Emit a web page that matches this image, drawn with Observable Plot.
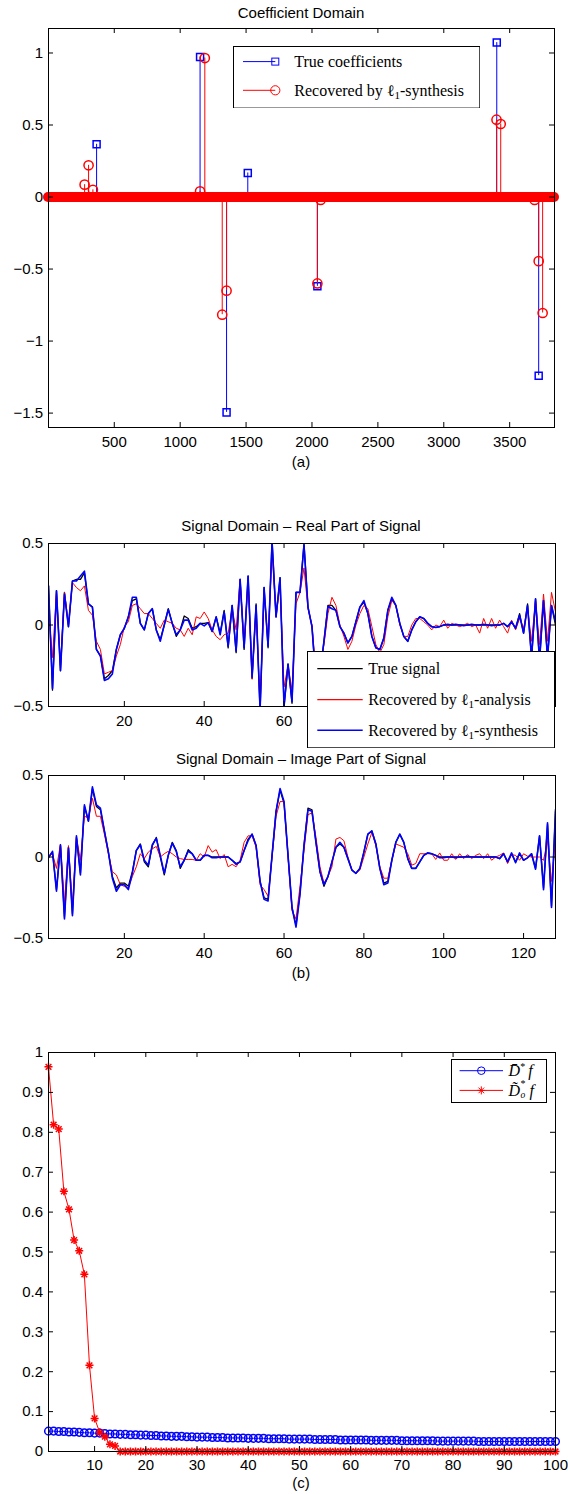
<!DOCTYPE html>
<html><head><meta charset="utf-8">
<script src="https://cdn.jsdelivr.net/npm/d3@7"></script>
<script src="https://cdn.jsdelivr.net/npm/@observablehq/plot@0.6"></script>
<style>
body{margin:0;background:#fff}
#root{position:relative;width:568px;height:1494px;overflow:hidden;font-family:"Liberation Sans",Arial,sans-serif;background:#fff}
.p{position:absolute;left:0}
.t{position:absolute;font-size:15px;color:#000;white-space:nowrap;transform:translate(-50%,-50%);line-height:1}
</style></head><body><div id="root"></div>
<script>
// ---------- Panel (a): coefficient domain ----------
const trueIdx = [366, 1151, 1352, 1513, 2041, 3402, 3720];
const trueVal = [0.366, 0.972, -1.495, 0.167, -0.62, 1.072, -1.24];
const recIdx = [275, 305, 338, 1151, 1187, 1319, 1352, 2041, 2066, 3400, 3432, 3689, 3720, 3750];
const recVal = [0.086, 0.22, 0.05, 0.04, 0.965, -0.817, -0.65, -0.60, -0.02, 0.537, 0.507, -0.02, -0.445, -0.805];
const coefLength = 3840;
const aXTicks = [500, 1000, 1500, 2000, 2500, 3000, 3500];
const aYTicks = [-1.5, -1, -0.5, 0, 0.5, 1];

// ---------- Panel (b): signal domain ----------
const realTrue = [0.24,-0.40,0.21,-0.28,0.20,-0.01,0.27,0.28,0.28,0.32,
0.13,0.11,-0.15,-0.19,-0.33,-0.31,-0.28,-0.15,-0.06,-0.02,
0.05,0.15,0.16,0.01,-0.03,0.07,0.10,-0.03,-0.09,0.00,
0.10,0.01,-0.07,-0.03,0.055,0.04,-0.02,-0.01,0.01,0.01,
0.015,-0.04,0.05,-0.05,0.09,-0.14,0.12,-0.17,0.28,-0.15,
0.30,-0.33,0.13,-0.53,0.23,-0.14,0.52,0.05,0.29,-0.50,
-0.24,-0.48,0.20,0.20,0.50,0.11,-0.01,-0.35,-0.30,-0.10,
0.12,0.12,0.09,-0.01,-0.05,-0.11,-0.07,0.02,0.11,0.14,
0.07,-0.07,-0.14,-0.15,-0.08,0.09,0.16,0.12,0.01,-0.07,
-0.10,-0.03,0.02,0.05,0.04,0.01,-0.01,-0.015,-0.01,0.00,
0.00,0.00,0.00,0.00,0.00,0.00,0.00,0.00,0.00,0.00,
0.00,0.00,0.00,0.00,0.01,-0.01,0.02,-0.02,0.07,-0.05,
0.13,-0.21,0.16,-0.22,0.15,-0.20,0.12,0.00];
const realAna = [0.10,-0.20,0.20,-0.25,0.20,0.00,0.26,0.23,0.21,0.24,
0.09,0.06,-0.10,-0.15,-0.30,-0.29,-0.28,-0.19,-0.12,-0.01,
0.02,0.12,0.13,0.10,0.07,0.07,0.04,0.01,-0.02,0.03,
0.02,0.01,-0.02,-0.03,-0.07,-0.02,-0.06,0.05,0.04,0.08,
0.04,-0.03,-0.07,-0.09,-0.06,-0.05,0.10,-0.03,0.28,-0.12,
0.28,-0.33,0.10,-0.50,0.20,-0.10,0.47,0.05,0.25,-0.38,
-0.25,-0.40,0.13,0.20,0.35,0.10,0.00,-0.30,-0.25,-0.12,
0.07,0.17,0.12,0.00,-0.07,-0.15,-0.10,0.00,0.07,0.12,
0.10,-0.01,-0.12,-0.17,-0.12,0.05,0.15,0.12,0.00,-0.07,
-0.07,0.00,0.04,0.04,0.02,0.00,-0.03,0.00,-0.01,0.03,
-0.02,0.01,0.00,-0.01,0.00,0.01,-0.01,0.00,-0.05,0.04,
-0.02,0.04,-0.02,0.03,-0.01,-0.05,0.03,-0.03,0.04,-0.02,
0.10,-0.10,0.15,-0.12,0.19,-0.10,0.20,0.08];
const realSyn = [0.24,-0.39,0.21,-0.28,0.19,-0.01,0.27,0.27,0.30,0.33,
0.13,0.11,-0.15,-0.19,-0.34,-0.33,-0.30,-0.15,-0.06,-0.02,
0.05,0.17,0.17,0.01,-0.03,0.07,0.10,-0.03,-0.10,0.00,
0.095,0.01,-0.06,-0.03,0.03,0.03,-0.03,-0.02,0.01,-0.005,
0.015,-0.04,0.05,-0.06,0.08,-0.13,0.12,-0.16,0.28,-0.14,
0.30,-0.32,0.12,-0.52,0.23,-0.13,0.51,0.05,0.29,-0.50,
-0.24,-0.47,0.20,0.20,0.49,0.11,-0.01,-0.35,-0.30,-0.10,
0.115,0.10,0.09,-0.01,-0.05,-0.11,-0.07,0.02,0.11,0.15,
0.07,-0.07,-0.14,-0.15,-0.08,0.09,0.17,0.12,0.01,-0.07,
-0.10,-0.03,0.02,0.05,0.04,0.01,-0.01,-0.015,-0.01,0.00,
0.005,0.00,0.005,0.00,-0.005,0.00,0.005,0.00,0.00,0.005,
0.00,-0.005,0.00,0.00,0.01,-0.01,0.02,-0.02,0.06,-0.05,
0.12,-0.20,0.16,-0.22,0.15,-0.20,0.12,0.02];
const imagTrue = [0.00,0.03,-0.20,0.07,-0.37,0.06,-0.35,0.12,-0.10,0.31,
0.22,0.42,0.31,0.29,0.16,0.03,-0.12,-0.19,-0.16,-0.16,
-0.18,-0.09,0.04,0.08,-0.03,-0.06,0.07,0.12,0.00,-0.11,
0.01,0.09,0.04,-0.07,-0.02,0.045,0.02,-0.02,-0.02,0.01,
0.01,0.00,0.00,0.00,0.00,0.00,-0.02,-0.04,-0.03,0.04,
0.11,0.14,0.07,-0.15,-0.25,-0.26,0.01,0.28,0.41,0.33,
0.01,-0.31,-0.42,-0.22,0.07,0.30,0.29,0.09,-0.09,-0.18,
-0.12,-0.03,0.06,0.08,0.06,-0.01,-0.08,-0.10,-0.07,0.03,
0.14,0.16,0.08,-0.07,-0.16,-0.15,-0.02,0.09,0.14,0.09,
-0.01,-0.07,-0.07,-0.03,0.01,0.025,0.02,0.01,0.00,0.00,
0.00,0.00,0.00,0.00,0.00,0.00,0.00,0.00,0.00,0.00,
0.00,0.00,0.00,-0.01,0.02,-0.03,0.02,-0.03,0.02,-0.02,
-0.005,0.02,-0.07,0.13,-0.19,0.20,-0.30,0.28];
const imagAna = [0.00,0.02,-0.07,0.08,-0.28,0.07,-0.30,0.12,-0.02,0.25,
0.24,0.36,0.25,0.25,0.14,0.02,-0.09,-0.11,-0.17,-0.18,
-0.19,-0.12,-0.06,0.02,-0.01,0.03,0.05,0.065,0.00,0.02,
0.035,0.02,0.00,-0.01,-0.015,-0.015,-0.015,-0.02,0.02,0.00,
0.07,0.03,0.045,-0.01,0.015,-0.06,-0.045,-0.06,-0.02,0.09,
0.13,0.13,0.06,-0.17,-0.20,-0.24,0.00,0.25,0.34,0.34,
0.00,-0.33,-0.38,-0.18,0.04,0.26,0.27,0.12,-0.06,-0.16,
-0.12,-0.06,0.11,0.12,0.10,0.00,-0.08,-0.10,-0.08,0.00,
0.08,0.15,0.07,-0.06,-0.13,-0.13,-0.02,0.08,0.07,0.06,
0.02,-0.05,-0.04,0.02,0.02,0.02,0.02,-0.015,0.025,-0.02,
-0.02,0.02,-0.015,0.02,-0.01,0.015,-0.01,0.01,0.02,-0.01,
0.02,-0.02,0.00,0.01,0.025,-0.04,0.015,0.01,-0.02,0.02,
0.005,0.00,0.00,0.00,-0.02,0.10,-0.15,0.10];
const imagSyn = [-0.005,0.035,-0.21,0.075,-0.38,0.055,-0.36,0.13,-0.11,0.32,
0.22,0.43,0.32,0.30,0.16,0.03,-0.13,-0.21,-0.17,-0.17,
-0.20,-0.10,0.04,0.075,-0.02,-0.05,0.075,0.115,0.01,-0.10,
0.01,0.085,0.035,-0.06,-0.02,0.035,0.02,-0.02,-0.02,0.01,
0.01,-0.005,-0.005,0.00,0.00,0.00,-0.02,-0.045,-0.03,0.04,
0.10,0.14,0.07,-0.15,-0.26,-0.27,0.01,0.28,0.42,0.34,
0.01,-0.31,-0.43,-0.23,0.07,0.29,0.28,0.09,-0.09,-0.17,
-0.12,-0.03,0.06,0.09,0.06,-0.01,-0.08,-0.10,-0.07,0.03,
0.14,0.16,0.08,-0.07,-0.17,-0.16,-0.02,0.09,0.14,0.09,
-0.01,-0.07,-0.07,-0.03,0.01,0.025,0.02,0.01,-0.005,-0.005,
0.00,0.00,-0.005,0.00,0.00,0.005,0.00,0.00,0.00,0.00,
0.00,0.00,0.00,-0.01,0.02,-0.03,0.025,-0.035,0.025,-0.02,
-0.005,0.02,-0.075,0.13,-0.20,0.21,-0.31,0.29];
const bXTicks = [20, 40, 60, 80, 100, 120];
const bXLabelsVisibleReal = [20, 40, 60]; // 80–120 are covered by the legend in the reference
const bYTicks = [-0.5, 0, 0.5];

// ---------- Panel (c) ----------
const dBar = [0.051,0.051,0.050,0.050,0.049,0.049,0.048,0.047,0.047,0.046,
0.046,0.045,0.044,0.044,0.043,0.043,0.042,0.042,0.041,0.041,
0.040,0.040,0.039,0.039,0.038,0.038,0.038,0.037,0.037,0.036,
0.036,0.036,0.035,0.035,0.035,0.034,0.034,0.034,0.034,0.033,
0.033,0.033,0.033,0.032,0.032,0.032,0.032,0.031,0.031,0.031,
0.031,0.031,0.030,0.030,0.030,0.030,0.030,0.029,0.029,0.029,
0.029,0.029,0.029,0.028,0.028,0.028,0.028,0.028,0.028,0.027,
0.027,0.027,0.027,0.027,0.027,0.027,0.026,0.026,0.026,0.026,
0.026,0.026,0.026,0.026,0.025,0.025,0.025,0.025,0.025,0.025,
0.025,0.025,0.025,0.025,0.025,0.025,0.025,0.025,0.025,0.025];
const dTilde = [0.964,0.819,0.808,0.652,0.607,0.530,0.503,0.444,0.216,0.083,
0.048,0.037,0.018,0.014,0,0,0,0,0,0,
0,0,0,0,0,0,0,0,0,0,
0,0,0,0,0,0,0,0,0,0,
0,0,0,0,0,0,0,0,0,0,
0,0,0,0,0,0,0,0,0,0,
0,0,0,0,0,0,0,0,0,0,
0,0,0,0,0,0,0,0,0,0,
0,0,0,0,0,0,0,0,0,0,
0,0,0,0,0,0,0,0,0,0];
const cXTicks = [10, 20, 30, 40, 50, 60, 70, 80, 90, 100];
const cYTicks = [0, 0.1, 0.2, 0.3, 0.4, 0.5, 0.6, 0.7, 0.8, 0.9, 1];

// ---------- helpers ----------
const root = document.getElementById("root");
const BLUE = "#0000ff", RED = "#ff0000";
const fmt = d => (d < 0 ? "\u2212" : "") + String(+Math.abs(d).toFixed(4));
const idx = (d, i) => i + 1;
const val = d => d;

function panel({top, height, mt, mb, ml = 48, mr = 13, xdom, ydom, xticks, xlabels, yticks, marks, xpad = 9}) {
  const W = 568, pw = W - ml - mr, ph = height - mt - mb, tl = 5;
  const svg = Plot.plot({
    width: W, height, marginTop: mt, marginBottom: mb, marginLeft: ml, marginRight: mr,
    x: {domain: xdom}, y: {domain: ydom},
    style: {fontFamily: "'Liberation Sans', Arial, sans-serif", fontSize: "15px", color: "black", background: "white", overflow: "visible"},
    marks: [
      ...marks,
      Plot.tickX(xticks, {x: val, insetTop: ph - tl, stroke: "black"}),
      Plot.tickX(xticks, {x: val, insetBottom: ph - tl, stroke: "black"}),
      Plot.tickY(yticks, {y: val, insetRight: pw - tl, stroke: "black"}),
      Plot.tickY(yticks, {y: val, insetLeft: pw - tl, stroke: "black"}),
      Plot.frame({stroke: "black"}),
      Plot.axisX(xlabels || xticks, {tickSize: 0, tickPadding: xpad, fontSize: 15, tickFormat: fmt, label: null}),
      Plot.axisY(yticks, {tickSize: 0, tickPadding: 5.5, fontSize: 15, tickFormat: fmt, label: null})
    ]
  });
  svg.classList.add("p");
  svg.style.top = top + "px";
  root.appendChild(svg);
}

function label(text, x, y) {
  const d = document.createElement("div");
  d.className = "t"; d.textContent = text;
  d.style.left = x + "px"; d.style.top = y + "px";
  root.appendChild(d);
}

function legend({left, top, w, h, items, lx1, lx2, mx, tx, fs = 16}) {
  const svg = d3.create("svg").attr("width", w).attr("height", h)
    .style("position", "absolute").style("left", left + "px").style("top", top + "px");
  svg.append("rect").attr("x", 0.5).attr("y", 0.5).attr("width", w - 1).attr("height", h - 1)
    .attr("fill", "white").attr("stroke", "black");
  for (const it of items) {
    svg.append("line").attr("x1", lx1).attr("x2", lx2).attr("y1", it.y).attr("y2", it.y)
      .attr("stroke", it.color).attr("stroke-width", it.sw || 1);
    if (it.marker === "square") {
      svg.append("rect").attr("x", mx - 3.5).attr("y", it.y - 3.5).attr("width", 7).attr("height", 7)
        .attr("fill", "none").attr("stroke", it.color);
    } else if (it.marker === "circle") {
      svg.append("circle").attr("cx", mx).attr("cy", it.y).attr("r", it.r || 4.6)
        .attr("fill", "none").attr("stroke", it.color);
    } else if (it.marker === "star") {
      const r = 4;
      svg.append("path").attr("d", `M${mx - r},${it.y}H${mx + r}M${mx},${it.y - r}V${it.y + r}M${mx - 2.8},${it.y - 2.8}L${mx + 2.8},${it.y + 2.8}M${mx - 2.8},${it.y + 2.8}L${mx + 2.8},${it.y - 2.8}`)
        .attr("stroke", it.color).attr("fill", "none");
    }
    it.text(svg, tx, it.y, fs);
  }
  root.appendChild(svg.node());
}

function txt(svg, x, y, fs) {
  return svg.append("text").attr("x", x).attr("y", y).attr("dy", "0.33em")
    .attr("font-family", "'Liberation Serif', 'DejaVu Serif', serif").attr("font-size", fs).attr("fill", "black");
}

function ell1(t, rest) {
  t.append("tspan").text("Recovered by \u2113");
  t.append("tspan").attr("dy", 3).attr("font-size", 11).text("1");
  t.append("tspan").attr("dy", -3).text(rest);
}

// ---------- Panel (a) ----------
panel({
  top: 0, height: 470, mt: 28, mb: 43, mr: 14,
  xdom: [1, coefLength], ydom: [-1.6, 1.17], xticks: aXTicks, yticks: aYTicks,
  marks: [
    Plot.ruleY([0], {x1: 1, x2: coefLength, stroke: BLUE}),
    Plot.ruleX(trueIdx, {x: val, y1: 0, y2: (d, i) => trueVal[i], stroke: BLUE}),
    Plot.dot(trueIdx, {x: val, y: (d, i) => trueVal[i], symbol: "square", r: 3.95, stroke: BLUE, fill: "none"}),
    Plot.ruleY([0], {x1: 1, x2: coefLength, stroke: RED, strokeWidth: 10, strokeLinecap: "round"}),
    Plot.ruleX(recIdx, {x: val, y1: 0, y2: (d, i) => recVal[i], stroke: RED}),
    Plot.dot(recIdx, {x: val, y: (d, i) => recVal[i], symbol: "circle", r: 4.6, stroke: RED, fill: "none"})
  ]
});
label("Coefficient Domain", 301, 12);
label("(a)", 301, 461);
legend({
  left: 232.7, top: 45.7, w: 247.3, h: 62.6, lx1: 10, lx2: 42.3, mx: 42.3, tx: 61.3,
  items: [
    {y: 15.6, color: BLUE, marker: "square", text: (s, x, y, fs) => txt(s, x, y, fs).text("True coefficients")},
    {y: 44.3, color: RED, marker: "circle", text: (s, x, y, fs) => ell1(txt(s, x, y, fs), "-synthesis")}
  ]
});

// ---------- Panel (b) real ----------
panel({
  top: 500, height: 240, mt: 43, mb: 34,
  xdom: [1, 128], ydom: [-0.5, 0.5], xticks: bXTicks, xlabels: bXLabelsVisibleReal, yticks: bYTicks,
  marks: [
    Plot.line(realTrue, {x: idx, y: val, stroke: "black", strokeWidth: 1.3, clip: true}),
    Plot.line(realAna, {x: idx, y: val, stroke: RED, strokeWidth: 1, clip: true}),
    Plot.line(realSyn, {x: idx, y: val, stroke: BLUE, strokeWidth: 1.6, clip: true})
  ]
});
label("Signal Domain \u2013 Real Part of Signal", 301, 525);

// ---------- Panel (b) imag ----------
panel({
  top: 745, height: 230, mt: 30, mb: 37,
  xdom: [1, 128], ydom: [-0.5, 0.5], xticks: bXTicks, yticks: bYTicks,
  marks: [
    Plot.line(imagTrue, {x: idx, y: val, stroke: "black", strokeWidth: 1.3, clip: true}),
    Plot.line(imagAna, {x: idx, y: val, stroke: RED, strokeWidth: 1, clip: true}),
    Plot.line(imagSyn, {x: idx, y: val, stroke: BLUE, strokeWidth: 1.6, clip: true})
  ]
});
label("Signal Domain \u2013 Image Part of Signal", 301, 758);
label("(b)", 301, 972);
legend({
  left: 307, top: 650.7, w: 248, h: 97.3, lx1: 10.3, lx2: 55.7, mx: 0, tx: 61.3,
  items: [
    {y: 17.6, color: "black", sw: 1.3, text: (s, x, y, fs) => txt(s, x, y, fs).text("True signal")},
    {y: 48.6, color: RED, sw: 1.3, text: (s, x, y, fs) => ell1(txt(s, x, y, fs), "-analysis")},
    {y: 79.3, color: BLUE, sw: 1.6, text: (s, x, y, fs) => ell1(txt(s, x, y, fs), "-synthesis")}
  ]
});

// ---------- Panel (c) ----------
panel({
  top: 1000, height: 494, mt: 52, mb: 43,
  xdom: [1, 100], ydom: [0, 1], xticks: cXTicks, yticks: cYTicks, xpad: 8,
  marks: [
    Plot.line(dBar, {x: idx, y: val, stroke: BLUE, strokeWidth: 1}),
    Plot.dot(dBar, {x: idx, y: val, symbol: "circle", r: 3.8, stroke: BLUE, fill: "none"}),
    Plot.line(dTilde, {x: idx, y: val, stroke: RED, strokeWidth: 1}),
    Plot.dot(dTilde, {x: idx, y: val, symbol: "plus", r: 2.7, stroke: RED}),
    Plot.dot(dTilde, {x: idx, y: val, symbol: "times", r: 2.7, stroke: RED})
  ]
});
label("(c)", 301, 1482);
legend({
  left: 450.7, top: 1059.3, w: 96, h: 44, lx1: 8.6, lx2: 52, mx: 30.3, tx: 57.6, fs: 16,
  items: [
    {y: 11.7, color: BLUE, marker: "circle", r: 3.8, text: (s, x, y, fs) => {
      const t = txt(s, x, y, fs);
      t.append("tspan").attr("font-style", "italic").text("D\u0304");
      t.append("tspan").attr("dy", -6).attr("font-size", 10).text("*");
      t.append("tspan").attr("dy", 6).attr("dx", 3).attr("font-style", "italic").text("f");
    }},
    {y: 31.4, color: RED, marker: "star", text: (s, x, y, fs) => {
      // main symbol, superscript and subscript as separate texts so they sit stacked
      const t = txt(s, x, y, fs);
      t.append("tspan").attr("font-style", "italic").text("D\u0303");
      s.append("text").attr("x", x + 12).attr("y", y - 3).attr("font-size", 10)
        .attr("font-family", "'Liberation Serif', serif").text("*");
      s.append("text").attr("x", x + 12).attr("y", y + 8).attr("font-size", 9.5).attr("font-style", "italic")
        .attr("font-family", "'Liberation Serif', serif").text("o");
      s.append("text").attr("x", x + 21).attr("y", y).attr("dy", "0.33em").attr("font-size", fs).attr("font-style", "italic")
        .attr("font-family", "'Liberation Serif', serif").text("f");
    }}
  ]
});
</script></body></html>
